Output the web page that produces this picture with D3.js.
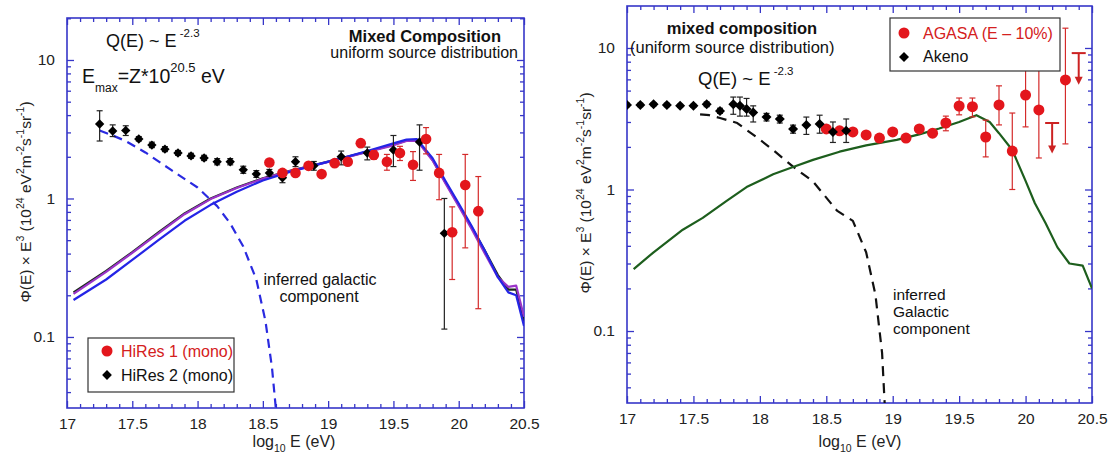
<!DOCTYPE html>
<html>
<head>
<meta charset="utf-8">
<script src="https://cdn.jsdelivr.net/npm/d3@7"></script>
<style>
  body { margin: 0; background: #fff; }
  svg { display: block; font-family: Arial, "Liberation Sans", Helvetica, sans-serif; }
</style>
</head>
<body>
<svg id="chart" width="1113" height="464"></svg>
<script>
// ---------- data ----------
const xTicks = [17, 17.5, 18, 18.5, 19, 19.5, 20, 20.5];
const yTicks = [0.1, 1, 10];

// left panel: HiRes 1 (mono), red circles
const hires1X = [18.55, 18.65, 18.75, 18.85, 18.95, 19.05, 19.15, 19.25, 19.35, 19.45, 19.55, 19.65, 19.75, 19.85, 19.95, 20.05, 20.15];
const hires1Y = [1.82, 1.53, 1.53, 1.72, 1.50, 1.80, 1.84, 2.51, 2.06, 1.84, 2.13, 1.75, 2.69, 1.53, 0.57, 1.25, 0.81];
const hires1Lo = [1.75, 1.47, 1.47, 1.65, 1.44, 1.72, 1.75, 2.40, 1.92, 1.60, 1.88, 1.35, 2.10, 0.98, 0.26, 0.44, 0.16];
const hires1Hi = [1.90, 1.60, 1.60, 1.80, 1.57, 1.88, 1.95, 2.62, 2.22, 2.08, 2.38, 2.18, 3.25, 2.08, 0.87, 2.08, 1.44];

// left panel: HiRes 2 (mono), black diamonds
const hires2X = [17.25, 17.35, 17.45, 17.55, 17.65, 17.75, 17.85, 17.95, 18.05, 18.15, 18.25, 18.35, 18.45, 18.55, 18.65, 18.75, 18.89, 19.1, 19.3, 19.5, 19.7, 19.89];
const hires2Y = [3.45, 3.07, 3.10, 2.69, 2.43, 2.27, 2.13, 2.03, 1.96, 1.84, 1.84, 1.61, 1.50, 1.53, 1.41, 1.84, 1.72, 2.00, 2.13, 2.24, 2.56, 0.56];
const hires2Lo = [2.60, 2.80, 2.85, 2.60, 2.33, 2.18, 2.05, 1.95, 1.88, 1.75, 1.75, 1.52, 1.42, 1.45, 1.30, 1.70, 1.60, 1.75, 1.90, 1.70, 1.60, 0.114];
const hires2Hi = [4.30, 3.40, 3.35, 2.80, 2.55, 2.37, 2.22, 2.12, 2.05, 1.94, 1.94, 1.71, 1.59, 1.62, 1.52, 2.00, 1.85, 2.20, 2.35, 2.85, 3.40, 1.00];

// left panel: model curves
const modelX = [17.05, 17.3, 17.5, 17.7, 17.9, 18.1, 18.3, 18.5, 18.7, 18.9, 19.1, 19.3, 19.5, 19.6, 19.68, 19.8, 19.9, 20.0, 20.1, 20.2, 20.3, 20.38, 20.44, 20.5];
const modelBlack = [0.21, 0.30, 0.41, 0.57, 0.78, 1.00, 1.20, 1.40, 1.58, 1.75, 1.95, 2.18, 2.45, 2.62, 2.65, 1.90, 1.30, 0.90, 0.62, 0.42, 0.28, 0.22, 0.22, 0.13];
const modelPurple = [0.205, 0.295, 0.405, 0.56, 0.77, 0.99, 1.19, 1.39, 1.57, 1.74, 1.94, 2.17, 2.42, 2.60, 2.62, 1.88, 1.28, 0.88, 0.60, 0.40, 0.27, 0.23, 0.235, 0.14];
const modelBlue = [0.185, 0.26, 0.36, 0.50, 0.69, 0.90, 1.12, 1.35, 1.55, 1.74, 1.95, 2.20, 2.50, 2.66, 2.68, 1.95, 1.33, 0.92, 0.63, 0.42, 0.27, 0.21, 0.20, 0.12];

// left panel: inferred galactic component (dashed blue)
const galLeftX = [17.25, 17.35, 17.45, 17.6, 17.8, 18.0, 18.15, 18.25, 18.35, 18.45, 18.52, 18.57, 18.6];
const galLeftY = [3.1, 2.85, 2.6, 2.15, 1.6, 1.2, 0.88, 0.66, 0.45, 0.26, 0.13, 0.06, 0.03];

// right panel: AGASA (E - 10%), red circles
const agasaX = [18.5, 18.6, 18.7, 18.8, 18.9, 19.0, 19.1, 19.2, 19.3, 19.4, 19.5, 19.6, 19.7, 19.8, 19.9, 20.0, 20.1, 20.3];
const agasaY = [2.68, 2.60, 2.55, 2.43, 2.31, 2.55, 2.31, 2.68, 2.50, 2.95, 3.89, 3.85, 2.35, 3.96, 1.87, 4.65, 3.65, 5.95];
const agasaLo = [2.60, 2.52, 2.47, 2.36, 2.24, 2.47, 2.24, 2.58, 2.38, 2.60, 3.37, 3.26, 1.70, 2.86, 1.00, 2.77, 1.67, 2.10];
const agasaHi = [2.76, 2.68, 2.63, 2.50, 2.38, 2.63, 2.38, 2.78, 2.62, 3.30, 4.43, 4.43, 3.09, 5.40, 3.47, 7.80, 7.80, 13.8];
// AGASA upper limits
const limitX = [20.2, 20.4];
const limitTop = [2.95, 9.2];
const limitBottom = [1.8, 5.5];

// right panel: Akeno, black diamonds
const akenoX = [17.0, 17.1, 17.2, 17.3, 17.4, 17.5, 17.6, 17.7, 17.8, 17.85, 17.9, 17.95, 18.05, 18.15, 18.25, 18.35, 18.45, 18.55, 18.65];
const akenoY = [3.96, 3.96, 4.0, 3.96, 3.9, 3.9, 4.0, 3.59, 4.0, 3.9, 3.7, 3.5, 3.25, 3.15, 2.68, 2.86, 2.9, 2.55, 2.6];
const akenoLo = [3.85, 3.85, 3.9, 3.85, 3.8, 3.8, 3.85, 3.45, 3.4, 3.3, 3.3, 3.0, 3.05, 2.95, 2.5, 2.45, 2.5, 2.15, 2.15];
const akenoHi = [4.07, 4.07, 4.1, 4.07, 4.0, 4.0, 4.15, 3.75, 4.5, 4.5, 4.4, 3.9, 3.45, 3.35, 2.85, 3.25, 3.35, 3.0, 3.15];

// right panel: model (green) and inferred Galactic component (dashed black)
const greenX = [17.05, 17.2, 17.42, 17.57, 17.75, 17.9, 18.1, 18.25, 18.4, 18.6, 18.8, 19.03, 19.2, 19.35, 19.5, 19.63, 19.73, 19.8, 19.9, 20.0, 20.07, 20.15, 20.24, 20.33, 20.43, 20.5];
const greenY = [0.274, 0.36, 0.52, 0.63, 0.83, 1.04, 1.28, 1.44, 1.62, 1.85, 2.05, 2.24, 2.45, 2.70, 3.0, 3.35, 3.0, 2.5, 1.9, 1.15, 0.80, 0.58, 0.39, 0.30, 0.29, 0.20];
const galRightX = [17.55, 17.62, 17.7, 17.83, 18.0, 18.1, 18.25, 18.4, 18.58, 18.7, 18.8, 18.87, 18.92, 18.94];
const galRightY = [3.4, 3.35, 3.2, 2.95, 2.25, 1.9, 1.45, 1.14, 0.71, 0.6, 0.36, 0.18, 0.07, 0.03];

// ---------- drawing ----------
const svg = d3.select('#chart');
const axisColor = '#3636c8';
const red = '#e3161c';

function zip(xs, ys, lo, hi) {
    return xs.map((x, i) => ({x, y: ys[i], lo: lo ? lo[i] : null, hi: hi ? hi[i] : null}));
}

// text with super/subscript parts: [string, baseline shift px, font size]
function rich(sel, parts) {
    let shift = 0;
    parts.forEach(([s, dy, size]) => {
        sel.append('tspan').attr('dy', dy - shift).attr('font-size', size).text(s);
        shift = dy;
    });
    return sel;
}

function makePanel(p) {
    const g = svg.append('g');
    const x = d3.scaleLinear().domain([17, 20.5]).range([p.left, p.right]);
    const y = d3.scaleLog().domain(p.yDomain).range([p.bottom, p.top]);

    const minorX = d3.range(170, 206).map(d => d / 10).filter(v => Math.round(v * 10) % 5 !== 0);
    const minorY = [];
    [0.01, 0.1, 1, 10].forEach(dec => {
        for (let k = 2; k < 10; k++) {
            const v = dec * k;
            if (v > p.yDomain[0] && v < p.yDomain[1]) minorY.push(v);
        }
    });

    const style = sel => {
        sel.select('.domain').remove();
        sel.selectAll('.tick line').attr('stroke', axisColor).attr('stroke-width', 1.3);
        sel.selectAll('.tick text').attr('fill', '#222').attr('font-size', 15.5);
    };

    // bottom + top
    g.append('g').attr('transform', `translate(0,${p.bottom})`)
        .call(d3.axisBottom(x).tickValues(xTicks).tickSize(-7).tickPadding(10).tickFormat(d3.format('')))
        .call(style);
    g.append('g').attr('transform', `translate(0,${p.bottom})`)
        .call(d3.axisBottom(x).tickValues(minorX).tickSize(-4).tickFormat(''))
        .call(style);
    g.append('g').attr('transform', `translate(0,${p.top})`)
        .call(d3.axisTop(x).tickValues(xTicks).tickSize(-7).tickFormat(''))
        .call(style);
    g.append('g').attr('transform', `translate(0,${p.top})`)
        .call(d3.axisTop(x).tickValues(minorX).tickSize(-4).tickFormat(''))
        .call(style);
    // left + right
    g.append('g').attr('transform', `translate(${p.left},0)`)
        .call(d3.axisLeft(y).tickValues(yTicks).tickSize(-7).tickPadding(12).tickFormat(d3.format('')))
        .call(style);
    g.append('g').attr('transform', `translate(${p.left},0)`)
        .call(d3.axisLeft(y).tickValues(minorY).tickSize(-4).tickFormat(''))
        .call(style);
    g.append('g').attr('transform', `translate(${p.right},0)`)
        .call(d3.axisRight(y).tickValues(yTicks).tickSize(-7).tickFormat(''))
        .call(style);
    g.append('g').attr('transform', `translate(${p.right},0)`)
        .call(d3.axisRight(y).tickValues(minorY).tickSize(-4).tickFormat(''))
        .call(style);

    g.append('rect')
        .attr('x', p.left).attr('y', p.top)
        .attr('width', p.right - p.left).attr('height', p.bottom - p.top)
        .attr('fill', 'none').attr('stroke', axisColor).attr('stroke-width', 1.6);

    const clipId = 'clip' + p.left;
    svg.append('clipPath').attr('id', clipId).append('rect')
        .attr('x', p.left).attr('y', p.top)
        .attr('width', p.right - p.left).attr('height', p.bottom - p.top);
    const plot = g.append('g').attr('clip-path', `url(#${clipId})`);

    // x title
    rich(g.append('text').attr('x', p.xTitle).attr('y', 447).attr('text-anchor', 'middle').attr('fill', '#222'),
        [['log', 0, 16], ['10', 5, 10.5], [' E (eV)', 0, 16]]);
    // y title
    rich(g.append('text').attr('transform', `translate(${p.yTitle[0]},${p.yTitle[1]}) rotate(-90)`)
        .attr('text-anchor', 'middle').attr('fill', '#222'),
        [['\u03A6(E) \u00D7 E', 0, 15.5], ['3', -7, 10.5], [' (10', 0, 15.5], ['24', -7, 10.5], [' eV', 0, 15.5], ['2', -7, 10.5],
         ['m', 0, 15.5], ['-2', -7, 10.5], ['s', 0, 15.5], ['-1', -7, 10.5], ['sr', 0, 15.5], ['-1', -7, 10.5], [')', 0, 15.5]]);

    return {g, plot, x, y};
}

function drawLine(plot, x, y, xs, ys, color, width, dash) {
    const line = d3.line().x(d => x(d.x)).y(d => y(d.y));
    plot.append('path').datum(zip(xs, ys))
        .attr('d', line)
        .attr('fill', 'none')
        .attr('stroke', color)
        .attr('stroke-width', width)
        .attr('stroke-linejoin', 'round')
        .attr('stroke-dasharray', dash || null);
}

function drawErrors(plot, x, y, data, color) {
    const eb = plot.append('g').attr('stroke', color).attr('stroke-width', 1.2);
    data.forEach(d => {
        const cx = x(d.x);
        eb.append('line').attr('x1', cx).attr('x2', cx).attr('y1', y(d.lo)).attr('y2', y(d.hi));
        eb.append('line').attr('x1', cx - 3).attr('x2', cx + 3).attr('y1', y(d.lo)).attr('y2', y(d.lo));
        eb.append('line').attr('x1', cx - 3).attr('x2', cx + 3).attr('y1', y(d.hi)).attr('y2', y(d.hi));
    });
}

function drawCircles(plot, x, y, data, r) {
    plot.append('g').selectAll('circle').data(data).join('circle')
        .attr('cx', d => x(d.x)).attr('cy', d => y(d.y)).attr('r', r).attr('fill', red);
}

function drawDiamonds(plot, x, y, data, area) {
    const sym = d3.symbol(d3.symbolSquare, area);
    plot.append('g').selectAll('path').data(data).join('path')
        .attr('d', sym)
        .attr('transform', d => `translate(${x(d.x)},${y(d.y)}) rotate(45)`)
        .attr('fill', '#000');
}

// ----- left panel -----
const L = makePanel({left: 67, right: 524, top: 18, bottom: 408, yDomain: [0.0307, 20.1], xTitle: 294, yTitle: [31, 202]});
drawLine(L.plot, L.x, L.y, galLeftX, galLeftY, '#2a2ae0', 2.2, '9,6');
drawLine(L.plot, L.x, L.y, modelX, modelBlack, '#1c2a1c', 2.2);
drawLine(L.plot, L.x, L.y, modelX, modelPurple, '#9a34c8', 2.2);
drawLine(L.plot, L.x, L.y, modelX, modelBlue, '#2424e6', 2.2);

const h2 = zip(hires2X, hires2Y, hires2Lo, hires2Hi);
const h1 = zip(hires1X, hires1Y, hires1Lo, hires1Hi);
drawErrors(L.plot, L.x, L.y, h2, '#222');
drawErrors(L.plot, L.x, L.y, h1, '#d42a2a');
drawDiamonds(L.plot, L.x, L.y, h2, 44);
drawCircles(L.plot, L.x, L.y, h1, 5.3);

rich(L.g.append('text').attr('x', 106).attr('y', 47).attr('fill', '#111'),
    [['Q(E) ~ E', 0, 18], [' -2.3', -10, 11.5]]);
rich(L.g.append('text').attr('x', 82).attr('y', 83).attr('fill', '#111'),
    [['E', 0, 19.5], ['max', 9, 12], ['=Z*10', 0, 19.5], ['20.5', -11, 13], [' eV', 0, 19.5]]);
L.g.append('text').attr('x', 501).attr('y', 42).attr('text-anchor', 'end')
    .attr('font-size', 16.5).attr('font-weight', 'bold').attr('fill', '#111').text('Mixed Composition');
L.g.append('text').attr('x', 518).attr('y', 58).attr('text-anchor', 'end')
    .attr('font-size', 16).attr('fill', '#111').text('uniform source distribution');
L.g.append('text').attr('x', 320).attr('y', 285).attr('text-anchor', 'middle')
    .attr('font-size', 16).attr('fill', '#111').text('inferred galactic');
L.g.append('text').attr('x', 319).attr('y', 302).attr('text-anchor', 'middle')
    .attr('font-size', 16).attr('fill', '#111').text('component');

// left legend
const lg = L.g.append('g');
lg.append('rect').attr('x', 88).attr('y', 338).attr('width', 146).attr('height', 54)
    .attr('fill', '#fff').attr('stroke', '#333').attr('stroke-width', 1.2);
lg.append('circle').attr('cx', 107).attr('cy', 351).attr('r', 5.5).attr('fill', red);
lg.append('path').attr('d', d3.symbol(d3.symbolSquare, 48)).attr('transform', 'translate(107,375) rotate(45)').attr('fill', '#000');
lg.append('text').attr('x', 121).attr('y', 356.5).attr('font-size', 16).attr('fill', '#d42020').text('HiRes 1 (mono)');
lg.append('text').attr('x', 121).attr('y', 380.5).attr('font-size', 16).attr('fill', '#111').text('HiRes 2 (mono)');

// ----- right panel -----
const R = makePanel({left: 627, right: 1092, top: 6, bottom: 403, yDomain: [0.031, 19.8], xTitle: 860, yTitle: [591, 193]});
drawLine(R.plot, R.x, R.y, galRightX, galRightY, '#111', 2.2, '10,7');
drawLine(R.plot, R.x, R.y, greenX, greenY, '#1d5e1d', 2.2);

const ak = zip(akenoX, akenoY, akenoLo, akenoHi);
const ag = zip(agasaX, agasaY, agasaLo, agasaHi);
drawErrors(R.plot, R.x, R.y, ag, '#d42a2a');
drawCircles(R.plot, R.x, R.y, ag, 5.5);
drawErrors(R.plot, R.x, R.y, ak, '#222');
drawDiamonds(R.plot, R.x, R.y, ak, 50);

// upper limits
const ul = R.plot.append('g');
limitX.forEach((v, i) => {
    const cx = R.x(v), yt = R.y(limitTop[i]), yb = R.y(limitBottom[i]);
    ul.append('line').attr('x1', cx - 7).attr('x2', cx + 7).attr('y1', yt).attr('y2', yt)
        .attr('stroke', '#cc2222').attr('stroke-width', 2);
    ul.append('line').attr('x1', cx).attr('x2', cx).attr('y1', yt).attr('y2', yb - 6)
        .attr('stroke', '#cc2222').attr('stroke-width', 2);
    ul.append('path').attr('d', `M${cx - 4},${yb - 8}L${cx + 4},${yb - 8}L${cx},${yb}Z`).attr('fill', '#cc2222');
});

R.g.append('text').attr('x', 742).attr('y', 34).attr('text-anchor', 'middle')
    .attr('font-size', 16.5).attr('font-weight', 'bold').attr('fill', '#111').text('mixed composition');
R.g.append('text').attr('x', 630).attr('y', 53)
    .attr('font-size', 16.5).attr('fill', '#111').text('(uniform source distribution)');
rich(R.g.append('text').attr('x', 698).attr('y', 85).attr('fill', '#111'),
    [['Q(E) ~ E', 0, 18.5], [' -2.3', -10, 11.5]]);
['inferred', 'Galactic', 'component'].forEach((t, i) => {
    R.g.append('text').attr('x', 893).attr('y', 300 + i * 17)
        .attr('font-size', 15.5).attr('fill', '#111').text(t);
});

// right legend
const rg = R.g.append('g');
rg.append('rect').attr('x', 890).attr('y', 18).attr('width', 170).attr('height', 53)
    .attr('fill', '#fff').attr('stroke', '#333').attr('stroke-width', 1.2);
rg.append('circle').attr('cx', 904).attr('cy', 33).attr('r', 5.5).attr('fill', red);
rg.append('path').attr('d', d3.symbol(d3.symbolSquare, 50)).attr('transform', 'translate(904,57) rotate(45)').attr('fill', '#000');
rg.append('text').attr('x', 923).attr('y', 38.5).attr('font-size', 16).attr('fill', '#d42020').text('AGASA (E \u2013 10%)');
rg.append('text').attr('x', 923).attr('y', 62).attr('font-size', 16).attr('fill', '#111').text('Akeno');
</script>
</body>
</html>
